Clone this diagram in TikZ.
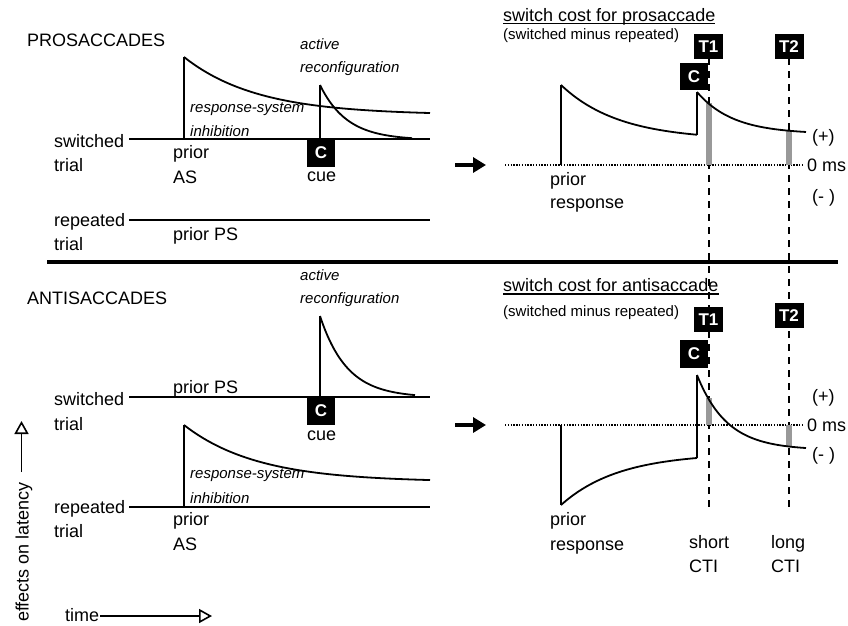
\documentclass[tikz,border=0pt]{standalone}
\usepackage{fontspec}
\setmainfont{Liberation Sans}
\usetikzlibrary{arrows.meta}
\begin{document}
\begin{tikzpicture}[x=1pt,y=-1pt,
  txt/.style={inner sep=0pt, anchor=base west, font=\fontsize{18}{20}\selectfont},
  itx/.style={inner sep=0pt, anchor=base west, font=\fontsize{15}{17}\selectfont\itshape},
  stx/.style={inner sep=0pt, anchor=base west, font=\fontsize{15}{17}\selectfont},
  cbox/.style={fill=black, text=white, inner sep=0pt, minimum width=28pt, minimum height=28pt, font=\fontsize{17}{17}\selectfont\bfseries},
  tbox/.style={fill=black, text=white, inner sep=0pt, minimum width=29pt, minimum height=25pt, font=\fontsize{17}{17}\selectfont\bfseries},
  ln/.style={line width=1.8pt},
  ctidash/.style={line width=2pt, dash pattern=on 7pt off 6pt},
  zero/.style={line width=1.6pt, dash pattern=on 1.4pt off 1.4pt},
  gbar/.style={line width=6pt, draw=black!40},
  bigarrow/.style={line width=3.2pt, -{Triangle[length=13pt,width=15pt]}},
  openarrow/.style={line width=1.6pt, -{Triangle[open,length=13pt,width=14pt]}},
]
\useasboundingbox (0,0) rectangle (848,625);

% ================= top left: PROSACCADES =================
\node[txt] (pro) at (27,46.5) {PROSACCADES};
\node[txt] (sw1) at (54,147) {switched};
\node[txt] (tr1) at (54,171) {trial};
\coordinate (sw1L) at (129,139);
\coordinate (sw1R) at (430,139);
\draw[ln] (sw1L) -- (sw1R);
% response-system inhibition
\coordinate (inh1B) at (184,139);
\coordinate (inh1T) at (184,57);
\draw[ln] (inh1B) -- (inh1T);
\draw[ln] plot[domain=184:430, samples=80] (\x, {115-58*exp(-(\x-184)/73)});
% active reconfiguration
\coordinate (rc1B) at (320,139);
\coordinate (rc1T) at (320,85);
\draw[ln] (rc1B) -- (rc1T);
\draw[ln] plot[domain=320:412, samples=60] (\x, {140-55*exp(-(\x-320)/27)});
\node[cbox] (c1) at (321,153) {C};
\node[txt] (cue1) at (307,181.5) {cue};
\node[itx] (act1) at (300,49) {active};
\node[itx] (rec1) at (300,72) {reconfiguration};
\node[itx] (rs1) at (190,112) {response-system};
\node[itx] (in1) at (190,136) {inhibition};
\node[txt] (pr1) at (173,158) {prior};
\node[txt] (as1) at (173,183) {AS};
% repeated
\coordinate (rp1L) at (129,220);
\coordinate (rp1R) at (430,220);
\draw[ln] (rp1L) -- (rp1R);
\node[txt] (rep1) at (54,226.5) {repeated};
\node[txt] (tr2) at (54,250.5) {trial};
\node[txt] (pps1) at (173,240.5) {prior PS};

% separator
\coordinate (sepL) at (47,261.5);
\coordinate (sepR) at (838,261.5);
\draw[line width=4pt] (sepL) -- (sepR);

% ================= bottom left: ANTISACCADES =================
\node[txt] (anti) at (27,304.5) {ANTISACCADES};
\node[itx] (act2) at (300,280) {active};
\node[itx] (rec2) at (300,303) {reconfiguration};
\coordinate (sw2L) at (129,397);
\coordinate (sw2R) at (430,397);
\draw[ln] (sw2L) -- (sw2R);
\node[txt] (pps2) at (173,393) {prior PS};
\node[txt] (sw2) at (54,405) {switched};
\node[txt] (tr3) at (54,430) {trial};
\coordinate (rc2B) at (320,397);
\coordinate (rc2T) at (320,316);
\draw[ln] (rc2B) -- (rc2T);
\draw[ln] plot[domain=320:415, samples=60] (\x, {397.5-81.5*exp(-(\x-320)/27)});
\node[cbox] (c2) at (321,411) {C};
\node[txt] (cue2) at (307,440) {cue};
\coordinate (rp2L) at (129,507);
\coordinate (rp2R) at (430,507);
\draw[ln] (rp2L) -- (rp2R);
\coordinate (inh2B) at (184,507);
\coordinate (inh2T) at (184,425);
\draw[ln] (inh2B) -- (inh2T);
\draw[ln] plot[domain=184:430, samples=80] (\x, {482-57*exp(-(\x-184)/73)});
\node[itx] (rs2) at (190,478) {response-system};
\node[itx] (in2) at (190,503) {inhibition};
\node[txt] (rep2) at (54,513) {repeated};
\node[txt] (tr4) at (54,537) {trial};
\node[txt] (pr2) at (173,525) {prior};
\node[txt] (as2) at (173,550) {AS};

% axes
\node[txt, rotate=90] (eff) at (28.5,622) {effects on latency};
\coordinate (yaS) at (21.5,472);
\coordinate (yaE) at (21.5,421);
\draw[openarrow] (yaS) -- (yaE);
\node[txt] (time) at (65,621) {time};
\coordinate (taS) at (100,616);
\coordinate (taE) at (212,616);
\draw[openarrow] (taS) -- (taE);

% ================= right: dashed CTI lines =================
\coordinate (d1T) at (708.5,58);
\coordinate (d1B) at (708.5,508);
\coordinate (d2T) at (789,58);
\coordinate (d2B) at (789,508);
\draw[ctidash] (d1T) -- (d1B);
\draw[ctidash] (d2T) -- (d2B);

% ================= top right =================
\node[txt] (tt1) at (503,21) {switch cost for prosaccade};
\draw[line width=1.3pt] ([yshift=-2.5pt]tt1.base west) -- ([yshift=-2.5pt]tt1.base east);
\node[stx] (st1) at (503,39.5) {(switched minus repeated)};
\coordinate (z1L) at (505,165);
\coordinate (z1R) at (803,165);
\draw[zero] (z1L) -- (z1R);
\node[txt] (ms1) at (807,171) {0 ms};
\coordinate (a1S) at (455,165);
\coordinate (a1E) at (486,165);
\draw[bigarrow] (a1S) -- (a1E);
% gray bars
\draw[gbar] (708.5,165) -- (708.5,103);
\draw[gbar] (789,165) -- (789,131);
% curves
\coordinate (p1B) at (561,165);
\coordinate (p1T) at (561,85);
\draw[ln] (p1B) -- (p1T);
\draw[ln] plot[domain=561:697, samples=60] (\x, {140-55*exp(-(\x-561)/58)});
\coordinate (v1B) at (697,134.7);
\coordinate (v1T) at (697,92);
\draw[ln] (v1B) -- (v1T);
\draw[ln] plot[domain=697:806, samples=60] (\x, {134-42*exp(-(\x-697)/36)});
\node[tbox] (T1a) at (708.5,46.5) {T1};
\node[tbox] (T2a) at (789,46.5) {T2};
\node[cbox, minimum height=27pt] (Ca) at (694,76.5) {C};
\node[txt] (plus1) at (812,142) {(+)};
\node[txt] (min1) at (812,202) {(- )};
\node[txt] (pr3) at (550,185) {prior};
\node[txt] (rs3) at (550,208) {response};

% ================= bottom right =================
\node[txt] (tt2) at (503,291.5) {switch cost for antisaccade};
\draw[line width=1.3pt] ([yshift=-2.5pt]tt2.base west) -- ([yshift=-2.5pt]tt2.base east);
\node[stx] (st2) at (503,316) {(switched minus repeated)};
\coordinate (z2L) at (505,425);
\coordinate (z2R) at (803,425);
\draw[zero] (z2L) -- (z2R);
\node[txt] (ms2) at (807,431) {0 ms};
\coordinate (a2S) at (455,425);
\coordinate (a2E) at (486,425);
\draw[bigarrow] (a2S) -- (a2E);
\draw[gbar] (708.5,425) -- (708.5,398);
\draw[gbar] (789,425) -- (789,446.5);
\coordinate (p2T) at (561,425);
\coordinate (p2B) at (561,505);
\draw[ln] (p2T) -- (p2B);
\draw[ln] plot[domain=561:697, samples=60] (\x, {453+52*exp(-(\x-561)/58)});
\coordinate (v2B) at (697,458);
\coordinate (v2T) at (697,375);
\draw[ln] (v2B) -- (v2T);
\draw[ln] plot[domain=697:806, samples=60] (\x, {450-75*exp(-(\x-697)/30)});
\node[tbox] (T1b) at (708.5,319.5) {T1};
\node[tbox] (T2b) at (789,315.5) {T2};
\node[cbox] (Cb) at (694,354) {C};
\node[txt] (plus2) at (812,402) {(+)};
\node[txt] (min2) at (812,460) {(- )};
\node[txt] (pr4) at (550,525) {prior};
\node[txt] (rs4) at (550,550) {response};
\node[txt] (sh) at (689,548) {short};
\node[txt] (cti1) at (689,572) {CTI};
\node[txt] (lo) at (771,548) {long};
\node[txt] (cti2) at (771,572) {CTI};
\end{tikzpicture}
\end{document}
